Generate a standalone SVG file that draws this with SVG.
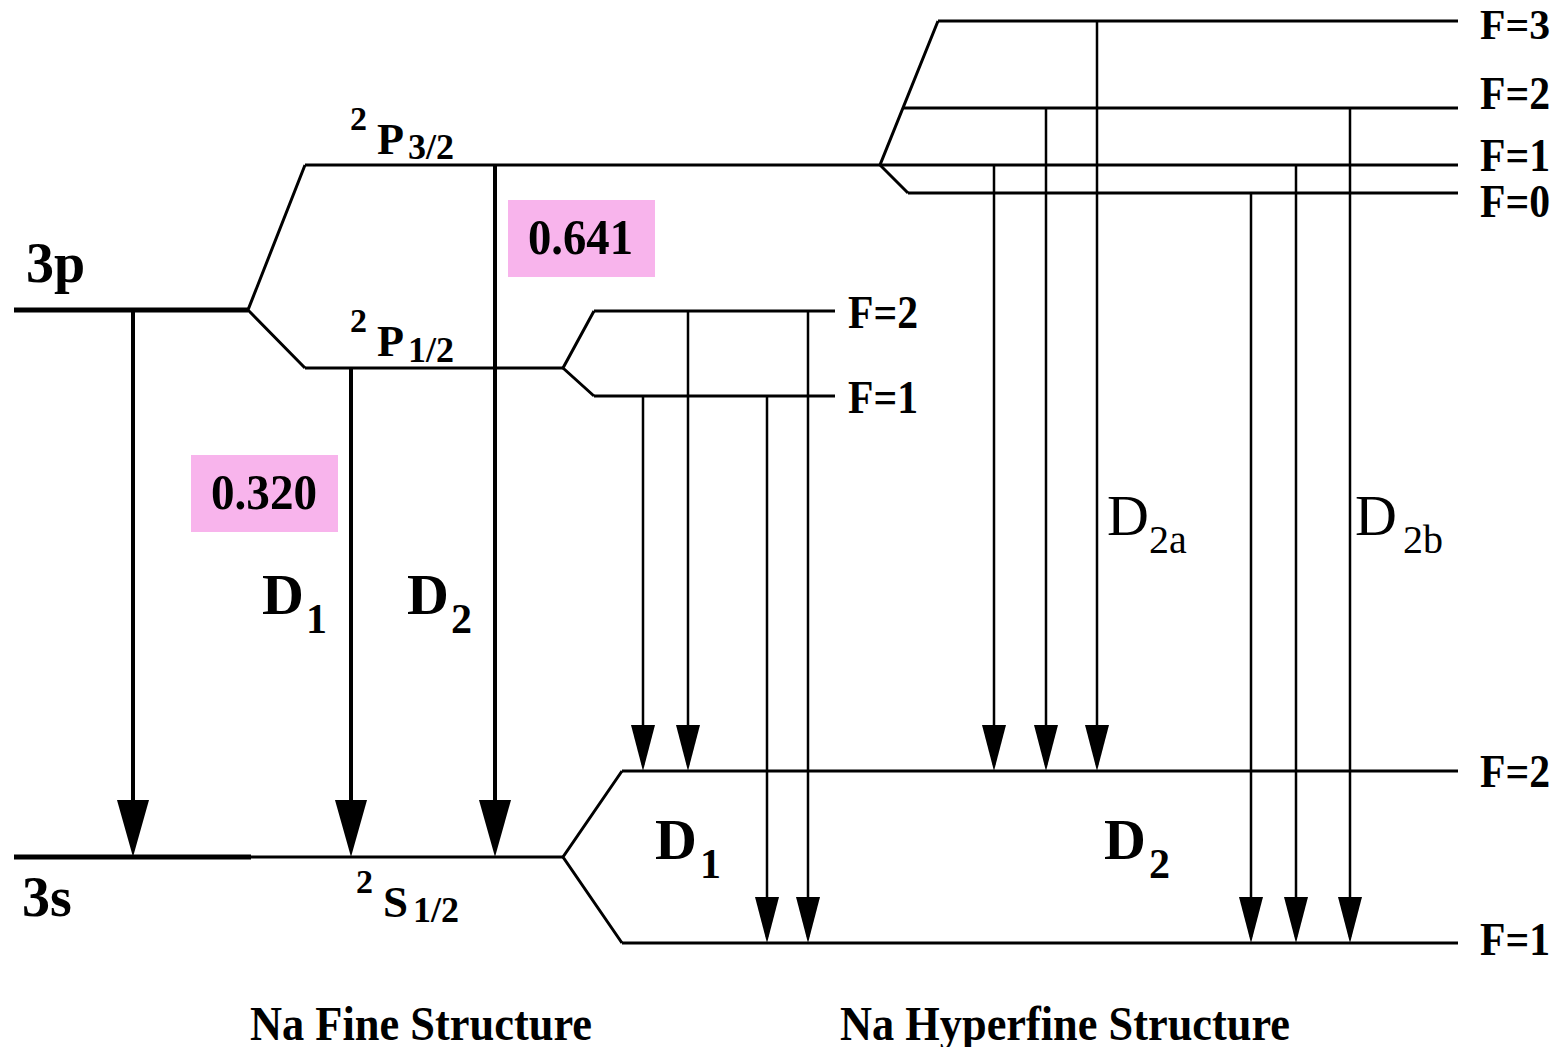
<svg xmlns="http://www.w3.org/2000/svg" width="1560" height="1047" viewBox="0 0 1560 1047">
<defs>
<marker id="headBig" markerUnits="userSpaceOnUse" markerWidth="57" markerHeight="32" viewBox="0 0 57 32" refX="49" refY="16" orient="auto">
<path d="M0,0 L57,16 L0,32 Z" fill="#000"/>
</marker>
<marker id="headSmall" markerUnits="userSpaceOnUse" markerWidth="46" markerHeight="24" viewBox="0 0 46 24" refX="40" refY="12" orient="auto">
<path d="M0,0 L46,12 L0,24 Z" fill="#000"/>
</marker>
</defs>
<style>
.lvl{stroke:#000;stroke-width:3;fill:none;stroke-linejoin:miter}
.thick{stroke:#000;stroke-width:5;fill:none}
.fa{stroke:#000;stroke-width:4;marker-end:url(#headBig)}
.ha{stroke:#000;stroke-width:2.5;marker-end:url(#headSmall)}
.t{font-family:"Liberation Serif","Times New Roman",serif;font-weight:bold;fill:#000}
.r{font-family:"Liberation Serif","Times New Roman",serif;font-weight:normal;fill:#000}
.box{fill:#F8B4EC}
</style>
<rect width="1560" height="1047" fill="#fff"/>

<g id="level-3p">
<line class="thick" x1="14" y1="310" x2="248" y2="310"/>
<text class="t" x="26" y="282" font-size="56">3p</text>
</g>

<g id="level-3s">
<line class="thick" x1="14" y1="857" x2="251" y2="857"/>
<text class="t" x="22" y="916" font-size="56">3s</text>
</g>

<g id="fine-split">
<polyline class="lvl" points="305,165 248,310 305,368"/>
</g>

<g id="level-P32">
<line class="lvl" x1="305" y1="165" x2="1458" y2="165"/>
<text class="t" x="350" y="130" font-size="34">2</text>
<text class="t" x="377" y="154" font-size="44" textLength="27" lengthAdjust="spacingAndGlyphs">P</text>
<text class="t" x="408" y="159" font-size="36" textLength="46" lengthAdjust="spacingAndGlyphs">3/2</text>
</g>

<g id="level-P12">
<line class="lvl" x1="305" y1="368" x2="563" y2="368"/>
<text class="t" x="350" y="332" font-size="34">2</text>
<text class="t" x="377" y="356" font-size="44" textLength="27" lengthAdjust="spacingAndGlyphs">P</text>
<text class="t" x="408" y="362" font-size="36" textLength="46" lengthAdjust="spacingAndGlyphs">1/2</text>
</g>

<g id="level-S12">
<line class="lvl" x1="251" y1="857" x2="563" y2="857"/>
<text class="t" x="356" y="893" font-size="34">2</text>
<text class="t" x="383" y="917" font-size="44" textLength="25" lengthAdjust="spacingAndGlyphs">S</text>
<text class="t" x="413" y="922" font-size="36" textLength="46" lengthAdjust="spacingAndGlyphs">1/2</text>
</g>

<g id="hfs-P32">
<polyline class="lvl" points="938,21 880,165 908,193"/>
<line class="lvl" x1="938" y1="21" x2="1458" y2="21"/>
<line class="lvl" x1="903" y1="108" x2="1458" y2="108"/>
<line class="lvl" x1="908" y1="193" x2="1458" y2="193"/>
<text class="t" x="1480" y="39" font-size="43" textLength="70" lengthAdjust="spacingAndGlyphs">F=3</text>
<text class="t" x="1480" y="109" font-size="46" textLength="70" lengthAdjust="spacingAndGlyphs">F=2</text>
<text class="t" x="1480" y="171" font-size="46" textLength="70" lengthAdjust="spacingAndGlyphs">F=1</text>
<text class="t" x="1480" y="217" font-size="46" textLength="70" lengthAdjust="spacingAndGlyphs">F=0</text>
</g>

<g id="hfs-P12">
<polyline class="lvl" points="594,311 563,368 594,396"/>
<line class="lvl" x1="594" y1="311" x2="835" y2="311"/>
<line class="lvl" x1="594" y1="396" x2="835" y2="396"/>
<text class="t" x="848" y="328" font-size="46" textLength="70" lengthAdjust="spacingAndGlyphs">F=2</text>
<text class="t" x="848" y="413" font-size="46" textLength="70" lengthAdjust="spacingAndGlyphs">F=1</text>
</g>

<g id="hfs-S12">
<polyline class="lvl" points="622,771 563,857 622,943"/>
<line class="lvl" x1="622" y1="771" x2="1458" y2="771"/>
<line class="lvl" x1="622" y1="943" x2="1458" y2="943"/>
<text class="t" x="1480" y="787" font-size="46" textLength="70" lengthAdjust="spacingAndGlyphs">F=2</text>
<text class="t" x="1480" y="955" font-size="46" textLength="70" lengthAdjust="spacingAndGlyphs">F=1</text>
</g>

<g id="connectors">
<line class="fa" x1="133" y1="310" x2="133" y2="849"/>
<line class="fa" x1="351" y1="368" x2="351" y2="849"/>
<line class="fa" x1="495" y1="165" x2="495" y2="849"/>
<line class="ha" x1="643" y1="396" x2="643" y2="765"/>
<line class="ha" x1="688" y1="311" x2="688" y2="765"/>
<line class="ha" x1="767" y1="396" x2="767" y2="937"/>
<line class="ha" x1="808" y1="311" x2="808" y2="937"/>
<line class="ha" x1="994" y1="165" x2="994" y2="765"/>
<line class="ha" x1="1046" y1="108" x2="1046" y2="765"/>
<line class="ha" x1="1097" y1="21" x2="1097" y2="765"/>
<line class="ha" x1="1251" y1="193" x2="1251" y2="937"/>
<line class="ha" x1="1296" y1="165" x2="1296" y2="937"/>
<line class="ha" x1="1350" y1="108" x2="1350" y2="937"/>
</g>

<g id="label-0641">
<rect class="box" x="508" y="200" width="147" height="77"/>
<text class="t" x="528" y="254" font-size="50" textLength="105" lengthAdjust="spacingAndGlyphs">0.641</text>
</g>

<g id="label-0320">
<rect class="box" x="191" y="455" width="147" height="77"/>
<text class="t" x="211" y="509" font-size="50" textLength="106" lengthAdjust="spacingAndGlyphs">0.320</text>
</g>

<g id="label-D1-fine">
<text class="t" x="262" y="614" font-size="58">D</text>
<text class="t" x="306" y="633" font-size="42">1</text>
</g>
<g id="label-D2-fine">
<text class="t" x="407" y="614" font-size="58">D</text>
<text class="t" x="451" y="633" font-size="42">2</text>
</g>
<g id="label-D1-hfs">
<text class="t" x="655" y="859" font-size="58">D</text>
<text class="t" x="700" y="878" font-size="42">1</text>
</g>
<g id="label-D2-hfs">
<text class="t" x="1104" y="859" font-size="58">D</text>
<text class="t" x="1149" y="878" font-size="42">2</text>
</g>
<g id="label-D2a">
<text class="r" x="1107" y="535" font-size="58">D</text>
<text class="r" x="1149" y="553" font-size="40">2a</text>
</g>
<g id="label-D2b">
<text class="r" x="1355" y="535" font-size="58">D</text>
<text class="r" x="1403" y="553" font-size="40">2b</text>
</g>

<g id="titles">
<text class="t" x="250" y="1040" font-size="48" textLength="342" lengthAdjust="spacingAndGlyphs">Na Fine Structure</text>
<text class="t" x="840" y="1040" font-size="48" textLength="450" lengthAdjust="spacingAndGlyphs">Na Hyperfine Structure</text>
</g>
</svg>
